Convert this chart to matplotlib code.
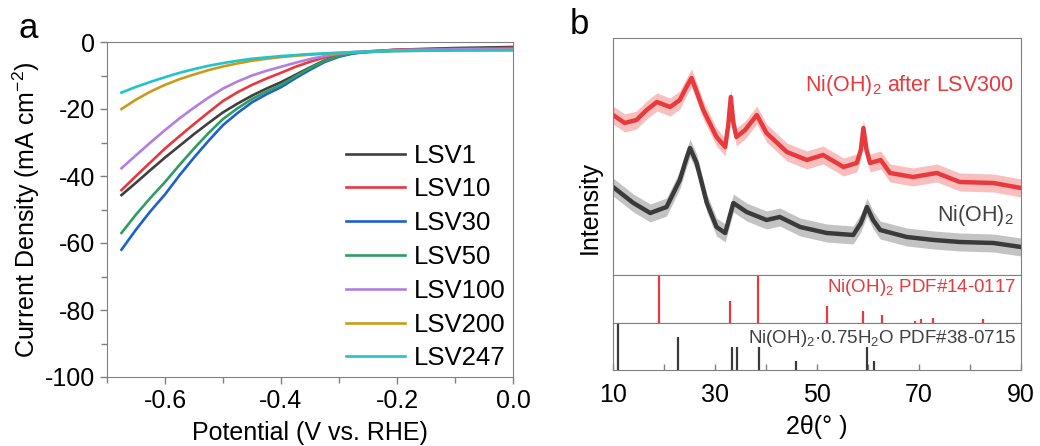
import numpy as np
import matplotlib
matplotlib.use("Agg")
from matplotlib import pyplot as plt
from matplotlib.ticker import MultipleLocator

plt.rcParams['font.family'] = ['Liberation Sans', 'DejaVu Sans']
plt.rcParams['mathtext.fontset'] = 'custom'
plt.rcParams['mathtext.rm'] = 'Liberation Sans'
plt.rcParams['mathtext.default'] = 'regular'
plt.rcParams['axes.unicode_minus'] = False

# ==================================================
#   DATA  (a) LSV curves

potential = [-0.675, -0.65, -0.625, -0.6, -0.575, -0.55, -0.525, -0.5, -0.475, -0.45, -0.425, -0.4,
             -0.375, -0.35, -0.325, -0.3, -0.275, -0.25, -0.2, -0.1, 0.0]
lsv_labels = ["LSV1", "LSV10", "LSV30", "LSV50", "LSV100", "LSV200", "LSV247"]
lsv1 = [-45.7, -42, -38.2, -34.5, -31.0, -27.5, -24.2, -21, -18.4, -16, -13.9, -12,
        -9.8, -7.6, -5.5, -4.1, -3.3, -2.9, -2.3, -1.8, -1.5]
lsv10 = [-44.2, -40, -35.9, -31.8, -28.1, -24.5, -21.0, -17.6, -15.0, -12.8, -10.9, -9.2,
         -7.4, -5.9, -4.6, -3.7, -3.1, -2.8, -2.3, -2.0, -1.8]
lsv30 = [-62, -56, -50.5, -45.5, -39.8, -34.5, -29.5, -24.8, -21.2, -18, -15.6, -13.5,
         -10.8, -8.3, -6.0, -4.4, -3.4, -3.0, -2.5, -2.3, -2.3]
lsv50 = [-57, -51.5, -46.5, -41.8, -36.7, -31.8, -27.2, -23, -19.8, -17, -14.8, -12.8,
         -10.2, -7.8, -5.7, -4.2, -3.3, -2.9, -2.5, -2.2, -2.1]
lsv100 = [-37.7, -33.8, -30, -26.3, -22.8, -19.6, -16.6, -13.9, -11.8, -10, -8.6, -7.4,
          -6.2, -5.1, -4.2, -3.5, -3.0, -2.8, -2.4, -2.2, -2.1]
lsv200 = [-20, -17.2, -14.8, -12.8, -11.1, -9.7, -8.4, -7.3, -6.4, -5.6, -5.0, -4.5,
          -4.1, -3.8, -3.5, -3.3, -3.1, -3.0, -2.7, -2.5, -2.4]
lsv247 = [-15.1, -13.4, -11.9, -10.5, -9.2, -8.1, -7.1, -6.3, -5.6, -5.0, -4.6, -4.2,
          -3.9, -3.6, -3.4, -3.2, -3.0, -2.9, -2.7, -2.5, -2.5]
lsv_colors = ["#3f3f3f", "#e8383d", "#1f5fd0", "#2e9d62", "#b27fe0", "#cc9a1a", "#22c4c8"]

# ==================================================
#   DATA  (b) XRD patterns (arb. units)

red_2theta = [10, 12.3, 14.6, 16.6, 18.6, 21.2, 23.1, 24.4, 25.4, 26.5, 27.7, 30.3, 32.0, 32.6, 33.1,
              33.6, 34.2, 35.9, 38.2, 40.1, 44.1, 48.0, 51.2, 55.2, 57.8, 58.6, 59.1, 59.7, 60.4,
              62.5, 64.3, 68.8, 73.5, 78.0, 84.6, 90]
red_int = [160, 152, 155, 165, 173, 168, 175, 188, 197, 182, 165, 138, 128, 150, 178,
           152, 138, 145, 160, 142, 123, 115, 120, 108, 112, 125, 147, 125, 112,
           115, 102, 98, 102, 93, 92, 87]
black_2theta = [10, 12.0, 14.0, 17.3, 20.5, 23.1, 24.3, 25.1, 26.4, 28.4, 30.3, 32.0, 33.6, 36.2, 40.1,
                42.7, 46.7, 51.9, 57.1, 58.6, 59.8, 61.0, 62.4, 67.6, 72.9, 78.0, 84.6, 90]
black_int = [88, 80, 72, 62, 68, 95, 115, 127, 112, 72, 48, 42, 72, 63, 55,
             58, 48, 42, 40, 52, 68, 55, 45, 38, 35, 33, 32, 28]

pdf14_pos = [19.1, 32.9, 38.5, 52.0, 59.0, 62.7, 69.2, 70.3, 72.7, 82.6]
pdf14_int = [100, 45, 100, 35, 25, 17, 5, 8, 10, 8]
pdf38_pos = [11.0, 22.7, 33.3, 34.3, 38.6, 45.9, 59.9, 61.2]
pdf38_int = [100, 70, 48, 48, 50, 20, 48, 20]

frame_c = "#808080"

fig = plt.figure(figsize=(10.4, 4.46), dpi=100)

# ==================================================
#   PANEL a

ax = fig.add_axes([107/1040, 1-377/446, 406/1040, 335/446])
for lab, ys, c in zip(lsv_labels, [lsv1, lsv10, lsv30, lsv50, lsv100, lsv200, lsv247], lsv_colors):
    ax.plot(potential, ys, color=c, lw=1.9, label=lab)
ax.set_xlim(-0.7, 0.0)
ax.set_ylim(-100, 0)
ax.xaxis.set_minor_locator(MultipleLocator(0.1))
ax.yaxis.set_major_locator(MultipleLocator(20))
ax.yaxis.set_minor_locator(MultipleLocator(10))
ax.set_xticks([-0.6, -0.4, -0.2, 0.0])
ax.set_xticklabels(["-0.6", "-0.4", "-0.2", "0.0"])
ax.tick_params(which="both", direction="out", colors=frame_c, labelcolor="black", labelsize=18, width=1)
ax.tick_params(which="major", length=5)
ax.tick_params(which="minor", length=4)
for s in ax.spines.values():
    s.set_color(frame_c)
ax.set_xlabel("Potential (V vs. RHE)", fontsize=18, labelpad=6)
ax.set_ylabel("Current Density (mA cm$^{-2}$)", fontsize=18, labelpad=2)
ax.legend(loc="lower right", bbox_to_anchor=(0.983, 0.02), frameon=False, fontsize=18.5,
          handlelength=2.3, handletextpad=0.35, labelspacing=0.38, borderpad=0, borderaxespad=0)
fig.text(18/1040, 1-28/446, "a", fontsize=25, va="center", ha="left")

# ==================================================
#   PANEL b

L, W = 613/1040, 408/1040
ax_top = fig.add_axes([L, 1-275/446, W, 237/446])
ax_mid = fig.add_axes([L, 1-323/446, W, 48/446], sharex=ax_top)
ax_bot = fig.add_axes([L, 1-370/446, W, 47/446], sharex=ax_top)

ax_top.fill_between(red_2theta, np.array(red_int) - 9, np.array(red_int) + 9, color="#f04848", alpha=0.35, lw=0)
ax_top.plot(red_2theta, red_int, color="#e83a3c", lw=3.2)
ax_top.fill_between(black_2theta, np.array(black_int) - 9, np.array(black_int) + 9, color="#555555", alpha=0.35, lw=0)
ax_top.plot(black_2theta, black_int, color="#3a3a3a", lw=3.2)
ax_top.set_ylim(0, 237)
ax_top.text(88.5, 190, "Ni(OH)$_2$ after LSV300", color="#e8393c", fontsize=15.5, ha="right", va="center")
ax_top.text(88.5, 60, "Ni(OH)$_2$", color="#404040", fontsize=15.5, ha="right", va="center")

ax_mid.vlines(pdf14_pos, 0, pdf14_int, color="#e8393c", lw=1.6)
ax_mid.set_ylim(0, 100)
ax_mid.text(89, 75, "Ni(OH)$_2$ PDF#14-0117", color="#e8393c", fontsize=13.5, ha="right", va="center")

ax_bot.vlines(pdf38_pos, 0, pdf38_int, color="#3a3a3a", lw=1.6)
ax_bot.set_ylim(0, 100)
ax_bot.text(89, 68, "Ni(OH)$_2$·0.75H$_2$O PDF#38-0715", color="#404040", fontsize=13.5, ha="right", va="center")

for a in (ax_top, ax_mid, ax_bot):
    a.set_xlim(10, 90)
    a.set_yticks([])
    for s in a.spines.values():
        s.set_color(frame_c)
    a.tick_params(axis="x", which="both", bottom=False, labelbottom=False, colors=frame_c)

ax_bot.set_xticks([10, 30, 50, 70, 90])
ax_bot.set_xticks([20, 40, 60, 80], minor=True)
ax_bot.tick_params(axis="x", which="both", bottom=True, labelbottom=True, direction="in",
                   colors=frame_c, labelcolor="black", labelsize=18, width=1, length=4, pad=9)
ax_bot.set_xlabel("2θ(° )", fontsize=18, labelpad=6)
fig.text(590/1040, 1-207/446, "Intensity", rotation=90, fontsize=18, ha="center", va="center")
fig.text(570/1040, 1-24/446, "b", fontsize=25, va="center", ha="left")

fig.savefig("out.png", dpi=100)
